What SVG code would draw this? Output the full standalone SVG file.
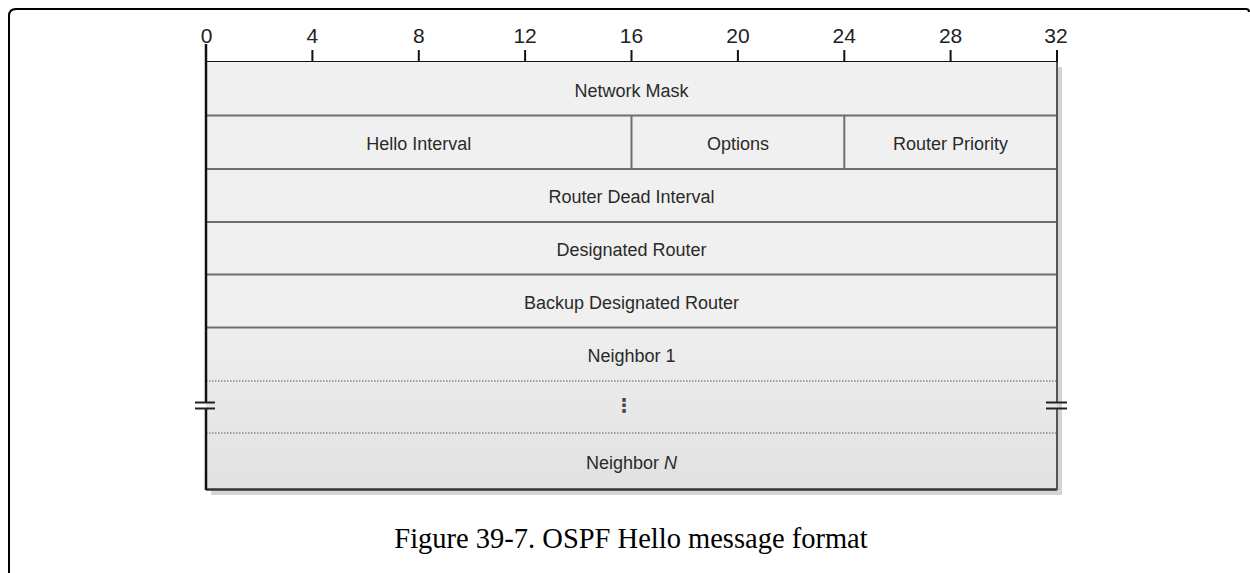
<svg xmlns="http://www.w3.org/2000/svg" width="1250" height="573" viewBox="0 0 1250 573">
<defs>
<linearGradient id="nb" x1="0" y1="0" x2="0" y2="1">
<stop offset="0" stop-color="#eeeeee"/>
<stop offset="1" stop-color="#e1e1e1"/>
</linearGradient>
</defs>
<style>
.num{font-family:"Liberation Sans",Arial,sans-serif;font-size:21px;fill:#222;text-anchor:middle}
.lbl{font-family:"Liberation Sans",Arial,sans-serif;font-size:18px;fill:#2a2a2a;text-anchor:middle}
.cap{font-family:"Liberation Serif","Times New Roman",serif;font-size:28.5px;fill:#000;text-anchor:middle}
.div{stroke:#6e6e6e;stroke-width:2;fill:none}
.dot{stroke:#888;stroke-width:1.5;stroke-dasharray:1.5 1.5;fill:none}
.tick{stroke:#111;stroke-width:2;fill:none}
</style>
<rect width="1250" height="573" fill="#fff"/>
<path d="M9,573 V16 Q9,9 16,9 H1246 Q1249,9 1249,12" fill="none" stroke="#000" stroke-width="2"/>

<g id="ruler">
<line class="tick" x1="206" y1="62" x2="1057" y2="62"/>
<line class="tick" x1="206" y1="44" x2="206" y2="62"/>
<line class="tick" x1="312.4" y1="50" x2="312.4" y2="62"/>
<line class="tick" x1="418.8" y1="50" x2="418.8" y2="62"/>
<line class="tick" x1="525.1" y1="50" x2="525.1" y2="62"/>
<line class="tick" x1="631.5" y1="50" x2="631.5" y2="62"/>
<line class="tick" x1="737.9" y1="50" x2="737.9" y2="62"/>
<line class="tick" x1="844.3" y1="50" x2="844.3" y2="62"/>
<line class="tick" x1="950.6" y1="50" x2="950.6" y2="62"/>
<line class="tick" x1="1057" y1="50" x2="1057" y2="62"/>
<text class="num" x="206.5" y="43">0</text>
<text class="num" x="312.4" y="43">4</text>
<text class="num" x="418.8" y="43">8</text>
<text class="num" x="525.1" y="43">12</text>
<text class="num" x="631.5" y="43">16</text>
<text class="num" x="737.9" y="43">20</text>
<text class="num" x="844.3" y="43">24</text>
<text class="num" x="950.6" y="43">28</text>
<text class="num" x="1056" y="43">32</text>
</g>

<g id="frame">
<rect x="211" y="67" width="851" height="428" fill="#d4d4d4"/>
<rect x="206" y="62" width="851" height="266" fill="#f0f0f0"/>
<rect x="206" y="327.5" width="851" height="162.5" fill="url(#nb)"/>
</g>

<g id="network-mask">
<text class="lbl" x="631.5" y="97">Network Mask</text>
</g>
<g id="hello-interval">
<text class="lbl" x="418.8" y="149.5">Hello Interval</text>
</g>
<g id="options">
<text class="lbl" x="737.9" y="149.5">Options</text>
</g>
<g id="router-priority">
<text class="lbl" x="950.6" y="149.5">Router Priority</text>
</g>
<g id="router-dead-interval">
<text class="lbl" x="631.5" y="203">Router Dead Interval</text>
</g>
<g id="designated-router">
<text class="lbl" x="631.5" y="256">Designated Router</text>
</g>
<g id="backup-designated-router">
<text class="lbl" x="631.5" y="309">Backup Designated Router</text>
</g>
<g id="neighbor-1">
<text class="lbl" x="631.5" y="361.5">Neighbor 1</text>
</g>
<g id="ellipsis">
<text x="624" y="412" style="font-family:'DejaVu Sans',sans-serif;font-size:19px;font-weight:bold;fill:#444;text-anchor:middle">⋮</text>
</g>
<g id="neighbor-n">
<text class="lbl" x="631.5" y="469">Neighbor <tspan font-style="italic">N</tspan></text>
</g>

<g id="connectors">
<line class="div" x1="206" y1="115.5" x2="1057" y2="115.5"/>
<line class="div" x1="206" y1="169" x2="1057" y2="169"/>
<line class="div" x1="206" y1="222" x2="1057" y2="222"/>
<line class="div" x1="206" y1="274.5" x2="1057" y2="274.5"/>
<line class="div" x1="206" y1="327.5" x2="1057" y2="327.5"/>
<line class="div" x1="631.5" y1="115.5" x2="631.5" y2="169"/>
<line class="div" x1="844.3" y1="115.5" x2="844.3" y2="169"/>
<line class="dot" x1="206" y1="381" x2="1057" y2="381"/>
<line class="dot" x1="206" y1="433" x2="1057" y2="433"/>
<line x1="206" y1="489.5" x2="1057" y2="489.5" stroke="#333" stroke-width="2.5"/>
<path d="M1057,62 V402 M1057,409 V490" stroke="#555" stroke-width="2" fill="none"/>
<path d="M206,44 V402 M206,409 V490" stroke="#111" stroke-width="2.5" fill="none"/>
<path d="M195,402.5 H215 M195,408.5 H215" stroke="#222" stroke-width="2" fill="none"/>
<path d="M1046,402.5 H1067 M1046,408.5 H1067" stroke="#222" stroke-width="2" fill="none"/>
</g>

<text class="cap" x="631" y="548">Figure 39-7. OSPF Hello message format</text>
</svg>
